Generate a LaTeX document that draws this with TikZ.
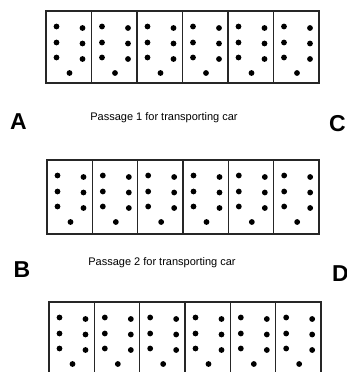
\documentclass[tikz,border=0pt]{standalone}
\usepackage{fontspec}
\setmainfont{Liberation Sans}
\begin{document}
\begin{tikzpicture}[x=1pt,y=-1pt,
  boxline/.style={draw=black!85,line width=1.3pt},
  dotmark/.style={fill=black},
  letter/.style={inner sep=0pt,font=\fontsize{23}{23}\selectfont\bfseries},
  caption/.style={inner sep=0pt,anchor=base,font=\fontsize{11}{11}\selectfont}]
\useasboundingbox (0,0) rectangle (346,372);
\clip (0,0) rectangle (346,372);
% rows: left, top, right, bottom
\foreach \L/\T/\R/\B in {46/11/319/83, 47/160/319/234, 49/302/321/390}{
  \draw[boxline] (\L,\T) rectangle (\R,\B);
  \pgfmathsetmacro{\w}{(\R-\L)/6}
  \foreach \i in {1,...,5}{
    \draw[boxline] ({\L+\i*\w},\T) -- ({\L+\i*\w},\B);
  }
  \foreach \i in {0,...,5}{
    \pgfmathsetmacro{\cx}{\L+\i*\w}
    \foreach \dy in {15.5,31.5,46.5}{
      \fill[dotmark] ({\cx+10.5},{\T+\dy}) circle (2.9);
    }
    \foreach \dy in {17,32.5,48}{
      \fill[dotmark] ({\cx+36.5},{\T+\dy}) circle (2.9);
    }
    \fill[dotmark] ({\cx+23.5},{\T+62}) circle (2.9);
  }
}
\node[letter] (A) at (18.5,121.5) {A};
\node[letter,anchor=west] (C) at (329,123.5) {C};
\node[letter] (B) at (22,270) {B};
\node[letter,anchor=west] (D) at (332,273.5) {D};
\node[caption] (p1) at (164,120) {Passage 1 for transporting car};
\node[caption] (p2) at (162,265) {Passage 2 for transporting car};
\end{tikzpicture}
\end{document}
